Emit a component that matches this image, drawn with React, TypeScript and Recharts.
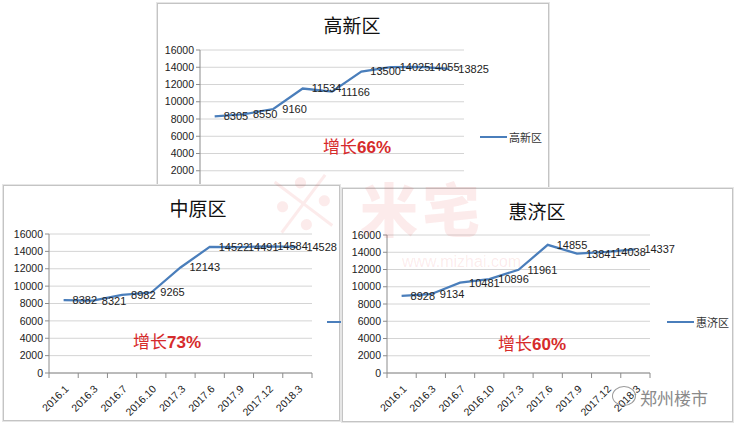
import { LineChart, Line, XAxis, YAxis, CartesianGrid, LabelList } from "recharts";

const months = ["2016.1", "2016.3", "2016.7", "2016.10", "2017.3", "2017.6", "2017.9", "2017.12", "2018.3"];
const gaoxin = [8305, 8550, 9160, 11534, 11166, 13500, 14025, 14055, 13825];
const zhongyuan = [8382, 8321, 8982, 9265, 12143, 14522, 14491, 14584, 14528];
const huiji = [8928, 9134, 10481, 10896, 11961, 14855, 13841, 14038, 14337];
const yTicks = [0, 2000, 4000, 6000, 8000, 10000, 12000, 14000, 16000];
const bounds = [-0.5, 0.5, 1.5, 2.5, 3.5, 4.5, 5.5, 6.5, 7.5, 8.5];

const BLUE = "#4a7ebb";
const AXIS = "#8c8c8c";
const NUM_FONT = "'Liberation Sans', Arial, sans-serif";
const CJK_FONT = "'Noto Sans CJK SC', sans-serif";

type PanelProps = {
  name: string;
  values: number[];
  growth: string;
  left: number;
  top: number;
  width: number;
  height: number;
  plotLeft: number;
  plotRight: number;
  plotTop: number;
  plotBottom: number;
  titleX: number;
  titleY: number;
  growthX: number;
  growthY: number;
  legendX: number;
  legendY: number;
};

function Panel(p: PanelProps) {
  const rows = p.values.map((v, i) => ({ i, v }));
  const yw = 40;
  const margin = {
    top: p.plotTop,
    right: p.width - p.plotRight,
    bottom: 0,
    left: p.plotLeft - yw,
  };
  const bw = (p.plotRight - p.plotLeft) / months.length;

  const Tick = ({ x, y, payload }: any) => {
    const k = Math.round(payload.value + 0.5);
    if (k >= months.length) return null;
    const cx = x + bw / 2;
    return (
      <text
        x={cx}
        y={y + 4}
        transform={`rotate(-45, ${cx}, ${y + 4})`}
        textAnchor="end"
        dominantBaseline="hanging"
        fontSize={10.5}
        fontFamily={NUM_FONT}
        fill="#222"
      >
        {months[k]}
      </text>
    );
  };

  return (
    <div
      style={{
        position: "absolute",
        left: p.left,
        top: p.top,
        width: p.width,
        height: p.height,
        background: "#fff",
        border: "1px solid #c4c4c4",
        boxShadow: "0 0 0 1px #e6e6e6",
      }}
    >
      <LineChart width={p.width} height={p.height} data={rows} margin={margin}>
        <CartesianGrid vertical={false} stroke="#d4d4d4" />
        <XAxis
          dataKey="i"
          type="number"
          domain={[-0.5, 8.5]}
          ticks={bounds}
          interval={0}
          height={p.height - p.plotBottom}
          stroke={AXIS}
          tickSize={5}
          tick={<Tick />}
        />
        <YAxis
          domain={[0, 16000]}
          ticks={yTicks}
          width={yw}
          stroke={AXIS}
          tickSize={4}
          tick={{ fontSize: 10.5, fill: "#222", fontFamily: NUM_FONT }}
          interval={0}
        />
        <Line
          dataKey="v"
          name={p.name}
          stroke={BLUE}
          strokeWidth={2.25}
          dot={false}
          isAnimationActive={false}
        >
          <LabelList
            dataKey="v"
            position="right"
            offset={9}
            fontSize={11}
            fill="#222"
            fontFamily={NUM_FONT}
          />
        </Line>
      </LineChart>
      <div
        style={{
          position: "absolute",
          left: p.legendX,
          top: p.legendY - 8,
          display: "flex",
          alignItems: "center",
          height: 16,
          fontFamily: CJK_FONT,
          fontSize: 11,
          color: "#333",
          whiteSpace: "nowrap",
        }}
      >
        <span style={{ display: "inline-block", width: 27, height: 2.5, background: BLUE, marginRight: 2 }} />
        {p.name}
      </div>
      <div
        style={{
          position: "absolute",
          left: p.titleX - 40,
          top: p.titleY - 13,
          width: 80,
          textAlign: "center",
          fontFamily: CJK_FONT,
          fontSize: 19,
          color: "#111",
          lineHeight: "26px",
        }}
      >
        {p.name}
      </div>
      <div
        style={{
          position: "absolute",
          left: p.growthX,
          top: p.growthY - 12,
          fontFamily: CJK_FONT,
          fontSize: 17,
          lineHeight: "24px",
          color: "#d62b2b",
          whiteSpace: "nowrap",
        }}
      >
        增长<b style={{ fontFamily: NUM_FONT }}>{p.growth}</b>
      </div>
    </div>
  );
}

export default function App() {
  return (
    <div style={{ position: "fixed", left: 0, top: 0, width: 740, height: 427, background: "#fff", overflow: "hidden" }}>
      <Panel
        name="高新区"
        values={gaoxin}
        growth="66%"
        left={157}
        top={3}
        width={390}
        height={234}
        plotLeft={42}
        plotRight={306}
        plotTop={46}
        plotBottom={184}
        titleX={194}
        titleY={21}
        growthX={165}
        growthY={142}
        legendX={322}
        legendY={133}
      />
      <Panel
        name="中原区"
        values={zhongyuan}
        growth="73%"
        left={3}
        top={185}
        width={335}
        height={234}
        plotLeft={45}
        plotRight={308}
        plotTop={48}
        plotBottom={187}
        titleX={194}
        titleY={22}
        growthX={129}
        growthY={155}
        legendX={323}
        legendY={136}
      />
      <Panel
        name="惠济区"
        values={huiji}
        growth="60%"
        left={342}
        top={188}
        width={389}
        height={232}
        plotLeft={44}
        plotRight={307}
        plotTop={46}
        plotBottom={184}
        titleX={194}
        titleY={22}
        growthX={155}
        growthY={154}
        legendX={324}
        legendY={133}
      />
      {/* watermark */}
      <div style={{ position: "absolute", left: 0, top: 0, width: 740, height: 427, pointerEvents: "none" }}>
        <div
          style={{
            position: "absolute",
            left: 266,
            top: 158,
            fontFamily: CJK_FONT,
            fontWeight: 900,
            fontSize: 74,
            lineHeight: "84px",
            color: "rgba(230, 60, 60, 0.1)",
            transform: "rotate(-8deg)",
          }}
        >
          ※
        </div>
        <div
          style={{
            position: "absolute",
            left: 360,
            top: 172,
            fontFamily: CJK_FONT,
            fontWeight: 900,
            fontSize: 58,
            lineHeight: "70px",
            color: "rgba(230, 60, 60, 0.1)",
            letterSpacing: 4,
          }}
        >
          米宅
        </div>
        <div
          style={{
            position: "absolute",
            left: 402,
            top: 253,
            fontFamily: NUM_FONT,
            fontSize: 16,
            color: "rgba(230, 60, 60, 0.1)",
          }}
        >
          www.mizhai.com
        </div>
        <div
          style={{
            position: "absolute",
            left: 612,
            top: 386,
            width: 22,
            height: 18,
            borderRadius: "50%",
            border: "1.5px solid #9a9a9a",
          }}
        />
        <div
          style={{
            position: "absolute",
            left: 640,
            top: 386,
            fontFamily: CJK_FONT,
            fontSize: 17,
            lineHeight: "24px",
            color: "#8a8a8a",
          }}
        >
          郑州楼市
        </div>
      </div>
    </div>
  );
}
